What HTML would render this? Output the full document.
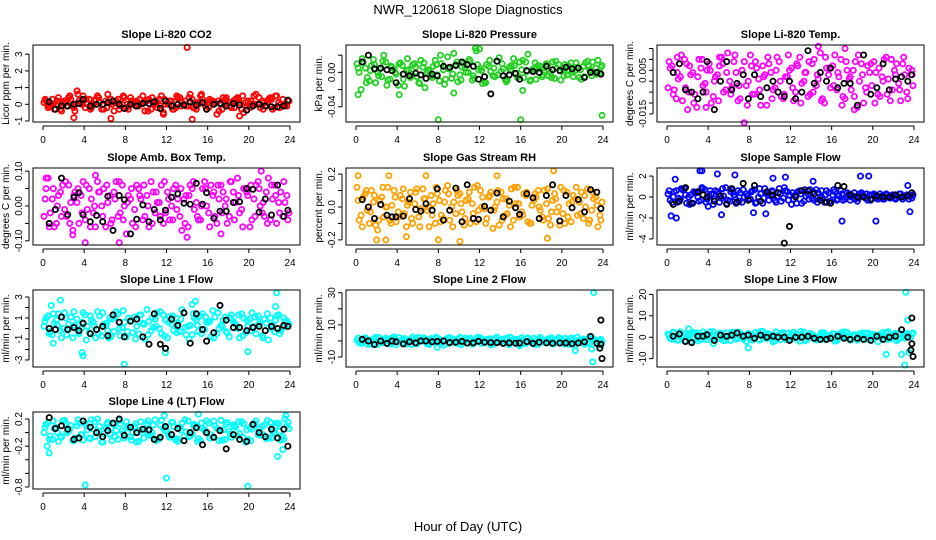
<!DOCTYPE html>
<html><head><meta charset="utf-8"><style>
html,body{margin:0;padding:0;background:#fff;}
svg{display:block;font-family:"Liberation Sans",Arial,sans-serif;}
</style></head><body>
<svg id="chart" width="936" height="540" viewBox="0 0 936 540">
<text x="468" y="14" text-anchor="middle" font-size="13">NWR_120618  Slope Diagnostics</text>
<text x="468" y="531" text-anchor="middle" font-size="13">Hour of Day (UTC)</text>
</svg>
<script>
const hcA=[0.1,0.5,0.9,1.3,1.7,2.1,2.5,2.9,3.3,3.7,4.1,4.5,4.9,5.3,5.7,6.1,6.5,6.9,7.3,7.7,8.1,8.5,8.9,9.3,9.7,10.1,10.5,10.9,11.3,11.7,12.1,12.5,12.9,13.3,13.7,14.1,14.5,14.9,15.3,15.7,16.1,16.5,16.9,17.3,17.7,18.1,18.5,18.9,19.3,19.7,20.1,20.5,20.9,21.3,21.7,22.1,22.5,22.9,23.3,23.7];
const hcB=[0.3,0.7,1.1,1.5,1.9,2.3,2.7,3.1,3.5,3.9,4.3,4.7,5.1,5.5,5.9,6.3,6.7,7.1,7.5,7.9,8.3,8.7,9.1,9.5,9.9,10.3,10.7,11.1,11.5,11.9,12.3,12.7,13.1,13.5,13.9,14.3,14.7,15.1,15.5,15.9,16.3,16.7,17.1,17.5,17.9,18.3,18.7,19.1,19.5,19.9,20.3,20.7,21.1,21.5,21.9,22.3,22.7,23.1,23.5,23.9];
const hcC=[0.2,0.6,1.0,1.4,1.8,2.2,2.6,3.0,3.4,3.8,4.2,4.6,5.0,5.4,5.8,6.2,6.6,7.0,7.4,7.8,8.2,8.6,9.0,9.4,9.8,10.2,10.6,11.0,11.4,11.8,12.2,12.6,13.0,13.4,13.8,14.2,14.6,15.0,15.4,15.8,16.2,16.6,17.0,17.4,17.8,18.2,18.6,19.0,19.4,19.8,20.2,20.6,21.0,21.4,21.8,22.2,22.6,23.0,23.4,23.8];
const hb=[0.6,1.2,1.8,2.4,3.0,3.5,3.9,4.6,5.2,5.8,6.3,6.8,7.4,7.9,8.5,9.1,9.7,10.3,10.8,11.4,11.9,12.5,13.1,13.7,14.3,14.9,15.5,15.9,16.6,17.2,17.8,18.5,19.1,19.8,20.4,21.0,21.6,22.2,22.8,23.4,23.8];
const xTicks=[0,4,8,12,16,20,24];

const co2A=[0.1,-0.2,0.3,0.0,-0.3,0.2,0.4,-0.1,0.8,0.1,-0.2,0.3,0.0,0.5,-0.3,0.2,0.1,-0.4,0.3,0.0,-0.2,0.4,0.1,-0.1,0.5,0.2,-0.3,0.0,0.3,-0.5,0.1,0.2,-0.2,0.4,0.0,-0.1,0.3,-0.3,0.5,0.1,-0.2,0.2,-0.6,0.0,0.3,-0.1,0.2,0.4,-0.3,0.1,-0.2,0.5,0.0,0.2,-0.1,0.4,-0.2,0.1,0.3,-0.1];
const co2B=[0.2,0.0,-0.3,0.4,0.1,-0.1,0.3,-0.4,0.2,0.5,0.0,-0.2,0.3,0.1,-0.3,0.6,0.0,0.2,-0.1,0.4,-0.3,0.1,0.2,0.0,-0.4,0.3,0.1,-0.2,0.5,0.0,0.2,-0.3,0.4,0.1,-0.1,0.6,-0.2,0.0,0.3,-0.3,0.2,0.1,-0.4,0.4,0.0,-0.2,0.3,0.1,-0.5,0.2,0.0,0.6,-0.2,0.1,0.3,-0.3,0.5,0.0,-0.1,0.2];
const co2C=[0.3,-0.1,0.0,0.2,-0.4,0.1,0.5,-0.2,0.6,0.0,0.3,-0.3,0.2,0.4,0.0,-0.2,0.3,0.1,-0.3,0.5,0.0,0.2,-0.1,0.3,0.1,-0.4,0.4,0.2,-0.1,0.3,0.0,-0.3,0.5,-0.1,0.2,0.4,-0.2,0.1,0.6,-0.1,0.3,0.0,0.2,-0.3,0.4,0.1,-0.2,0.3,0.5,-0.1,0.2,0.0,0.4,-0.3,0.1,0.3,0.5,-0.2,0.0,0.2];
const co2OutH=[14.0,14.5,6.6,3.0,11.7,19.1];
const co2OutV=[3.4,-0.9,-0.85,-0.8,-0.6,-0.7];
const co2Blk=[0.15,-0.3,-0.1,-0.1,0.0,0.05,0.3,-0.1,0.0,0.0,0.1,0.2,0.0,-0.25,0.0,-0.1,0.05,0.05,0.15,-0.25,0.2,-0.1,0.0,-0.05,0.15,-0.05,0.1,-0.3,0.0,0.05,-0.1,0.05,-0.05,-0.35,-0.1,0.0,-0.1,-0.15,-0.15,-0.1,0.25];

const presA=[0.01,-0.02,0.005,-0.01,0.015,0.0,-0.005,0.012,-0.008,0.004,-0.015,0.008,0.002,-0.006,0.01,-0.012,0.006,0.0,-0.004,0.014,-0.01,0.003,0.018,-0.007,0.009,-0.003,0.011,0.0,-0.009,0.025,0.005,-0.011,0.007,-0.004,0.013,0.001,-0.008,0.006,0.016,-0.006,0.003,0.012,-0.01,0.004,0.008,-0.005,0.01,0.0,-0.007,0.009,0.004,-0.003,0.011,0.002,-0.006,0.007,0.013,-0.004,0.005,0.0];
const presB=[0.0,0.012,-0.006,0.008,-0.012,0.004,0.02,-0.009,0.006,-0.002,0.011,-0.016,0.003,0.009,-0.005,0.014,-0.018,0.002,0.007,-0.003,0.01,-0.008,0.005,0.022,-0.011,0.006,0.0,0.013,-0.007,0.003,-0.013,0.009,0.001,-0.005,0.017,0.004,-0.009,0.008,-0.002,0.012,-0.006,0.021,0.003,-0.008,0.007,0.0,-0.004,0.012,0.005,-0.009,0.009,0.002,-0.005,0.006,-0.008,0.011,0.003,0.0,0.014,0.008];
const presC=[0.005,0.016,-0.012,0.002,0.009,-0.004,0.013,-0.015,0.007,0.0,0.01,-0.008,0.016,-0.002,0.006,-0.013,0.011,0.003,-0.006,0.009,0.02,-0.014,0.004,-0.002,0.012,-0.009,0.006,0.015,-0.004,0.009,0.002,-0.012,0.014,0.005,-0.003,0.01,-0.011,0.003,0.008,-0.005,0.014,0.001,-0.009,0.011,0.004,-0.003,0.009,-0.006,0.013,0.002,-0.004,0.008,0.0,0.011,0.003,-0.005,0.007,0.012,-0.002,0.006];
const presOutH=[8,16,23.9,0.2,11.6,12,9.5,4.2,16.2];
const presOutV=[-0.055,-0.055,-0.05,-0.026,0.028,0.027,-0.024,-0.026,-0.021];
const presBlk=[0.012,0.02,0.004,0.005,0.003,0.002,-0.012,-0.002,-0.004,-0.001,-0.003,-0.007,-0.002,-0.004,0.007,0.006,0.008,0.012,0.009,0.007,-0.008,-0.005,-0.025,0.013,-0.004,-0.003,-0.001,-0.008,0.002,0.001,0.0,0.007,0.003,0.002,0.006,0.004,0.005,-0.006,0.0,0.0,-0.002];

const tempA=[-0.003,0.007,-0.008,0.002,0.01,-0.005,0.004,-0.012,0.006,-0.001,0.008,-0.007,0.003,0.011,-0.004,0.0,0.009,-0.009,0.005,-0.002,0.012,-0.006,0.001,0.007,-0.011,0.004,-0.003,0.009,-0.008,0.002,0.006,-0.005,0.011,0.0,-0.007,0.008,-0.002,0.013,-0.01,0.003,0.007,-0.004,0.01,-0.008,0.001,0.005,-0.012,0.008,-0.003,0.004,0.009,-0.006,0.002,0.011,-0.009,0.005,-0.001,0.008,-0.005,0.003];
const tempB=[0.006,-0.004,0.001,-0.009,0.008,0.003,-0.006,0.01,-0.002,0.005,-0.01,0.002,0.007,-0.005,0.013,-0.003,0.004,-0.008,0.009,0.0,-0.006,0.006,-0.011,0.003,0.008,-0.004,0.011,-0.007,0.002,0.005,-0.009,0.007,-0.001,0.004,-0.006,0.01,0.001,-0.008,0.006,-0.003,0.012,0.002,-0.007,0.005,-0.004,0.009,0.0,-0.01,0.007,-0.002,0.004,-0.007,0.01,0.001,-0.004,0.008,-0.009,0.003,0.006,-0.002];
const tempC=[0.009,-0.006,0.004,0.012,-0.003,0.007,-0.01,0.002,0.01,-0.005,0.005,0.0,-0.009,0.008,0.004,-0.006,0.012,-0.002,0.003,-0.011,0.007,0.009,-0.004,0.002,0.011,-0.008,0.005,0.0,-0.006,0.012,-0.003,0.008,-0.01,0.004,0.009,-0.005,0.003,-0.009,0.011,0.006,-0.002,0.004,-0.011,0.009,0.002,-0.007,0.012,0.003,-0.005,0.008,-0.01,0.006,0.0,-0.006,0.01,0.003,-0.004,0.011,-0.008,0.005];
const tempOutH=[7.5,2.0,3.8,14.7,17.3,18.2,1.0,5.1];
const tempOutV=[-0.019,-0.013,-0.012,0.016,0.015,-0.013,0.011,0.011];
const tempBlk=[0.004,0.008,-0.004,-0.005,-0.008,-0.005,0.009,-0.013,0.0,0.009,-0.004,-0.001,0.003,-0.008,0.003,-0.007,-0.003,0.0,-0.005,-0.007,0.0,-0.008,-0.005,0.014,-0.001,0.004,0.0,0.006,-0.003,-0.001,-0.001,-0.011,0.012,-0.006,-0.003,0.008,-0.004,0.001,0.002,0.0,0.003];

const ambA=[-0.03,0.08,0.02,-0.05,0.04,-0.01,0.06,-0.07,0.01,0.03,-0.04,0.05,-0.02,0.07,0.0,-0.06,0.03,0.04,-0.03,0.06,-0.08,0.02,-0.01,0.05,-0.04,0.03,0.07,-0.02,0.01,-0.05,0.04,0.0,0.06,-0.03,0.02,-0.06,0.05,0.01,-0.04,0.07,-0.02,0.03,-0.05,0.06,0.0,-0.03,0.04,0.08,-0.01,0.05,-0.06,0.02,0.07,-0.02,0.04,-0.04,0.06,0.01,-0.03,0.03];
const ambB=[0.05,-0.02,-0.06,0.03,0.06,-0.03,0.01,0.04,-0.05,0.07,-0.01,0.02,-0.06,0.04,0.05,0.01,-0.04,0.07,-0.02,0.0,0.03,-0.05,0.06,0.02,-0.03,-0.06,0.04,0.01,0.06,-0.02,-0.04,0.05,0.02,-0.07,0.03,0.06,-0.01,-0.04,0.05,0.0,0.06,-0.03,0.02,0.04,-0.05,0.07,0.01,-0.02,0.05,0.03,-0.04,0.06,0.0,-0.03,0.08,0.02,-0.05,0.04,0.01,-0.02];
const ambC=[0.02,-0.06,0.05,0.0,-0.03,0.07,-0.05,0.03,0.05,-0.02,0.06,-0.06,0.0,0.04,-0.03,0.06,-0.05,0.02,0.07,-0.04,0.01,0.05,-0.06,0.03,0.06,0.0,-0.05,0.04,-0.03,0.07,0.02,-0.04,-0.01,0.05,-0.05,0.03,0.07,-0.03,0.0,0.05,-0.06,0.04,0.06,-0.02,0.02,0.07,-0.04,0.03,-0.06,0.04,0.06,-0.03,0.05,0.01,-0.05,0.06,0.03,-0.02,0.07,-0.04];
const ambOutH=[4.1,7.4,14,21.2,0.3,2.9,17.3,5.1];
const ambOutV=[-0.105,-0.105,-0.09,0.1,0.08,-0.083,-0.08,0.088];
const ambBlk=[-0.05,-0.01,0.08,-0.025,0.025,0.038,-0.025,-0.045,-0.027,-0.045,0.028,-0.07,0.03,0.018,-0.08,-0.038,0.003,-0.045,-0.01,-0.04,-0.012,0.025,0.035,0.008,0.005,0.065,0.005,0.038,-0.035,-0.015,-0.015,0.01,0.012,0.05,0.048,-0.018,0.02,-0.026,0.06,-0.03,-0.012];

const rhA=[0.12,-0.05,0.08,-0.1,0.03,-0.14,0.06,0.0,-0.08,0.1,-0.03,0.05,-0.12,0.09,0.02,-0.06,0.11,-0.02,0.07,-0.1,0.04,-0.07,0.13,0.0,-0.04,0.08,-0.11,0.05,0.02,-0.09,0.1,-0.01,0.06,-0.13,0.03,0.09,-0.05,0.01,-0.08,0.12,-0.03,0.07,-0.1,0.04,0.1,-0.06,0.02,-0.11,0.08,0.0,-0.04,0.09,-0.09,0.05,0.03,-0.07,0.11,-0.02,0.06,-0.05];
const rhB=[-0.08,0.06,-0.02,0.1,-0.11,0.04,-0.06,0.12,0.01,-0.09,0.07,-0.04,0.03,-0.1,0.11,-0.01,0.05,-0.12,0.02,0.08,-0.05,0.1,-0.08,0.03,0.07,-0.03,0.04,-0.1,0.12,-0.02,0.06,-0.07,0.09,0.0,-0.11,0.05,-0.04,0.11,0.02,-0.06,0.08,-0.09,0.01,0.06,-0.02,0.1,-0.07,0.04,-0.03,0.12,-0.1,0.02,0.07,-0.05,0.09,0.0,-0.08,0.05,-0.12,0.03];
const rhC=[0.04,-0.12,0.1,-0.03,0.07,-0.08,0.12,0.0,-0.1,0.06,-0.06,0.11,0.01,-0.07,0.09,-0.12,0.05,0.0,-0.05,0.12,-0.09,0.03,0.08,-0.12,0.1,0.02,-0.07,0.09,-0.04,0.13,0.0,-0.1,0.07,-0.02,0.1,-0.08,0.05,-0.12,0.12,0.02,-0.05,0.09,-0.1,0.08,0.0,-0.08,0.11,-0.03,0.05,-0.11,0.1,-0.06,0.03,0.12,-0.04,0.07,-0.1,0.09,0.01,-0.08];
const rhOutH=[0.2,3.2,6.8,13.7,19.2,2.0,2.9,8.0,10.1,4.9,18.6];
const rhOutV=[0.19,0.19,0.19,0.19,0.22,-0.2,-0.2,-0.2,-0.21,-0.18,-0.19];
const rhBlk=[0.045,0.0,-0.07,0.015,-0.05,-0.06,-0.06,-0.055,0.05,-0.015,-0.025,0.02,-0.02,0.11,-0.08,-0.02,0.115,-0.09,0.135,-0.07,-0.075,0.005,-0.02,0.085,-0.06,0.035,-0.005,-0.045,0.08,0.055,-0.07,0.07,0.135,-0.085,0.07,-0.005,0.045,-0.03,0.105,0.09,-0.01];

const sfA=[0.3,-0.5,0.6,-0.2,0.8,0.0,-0.6,0.4,-0.3,0.7,0.1,-0.7,0.5,-0.1,0.9,-0.4,0.2,0.6,-0.5,0.3,-0.2,0.7,0.0,-0.6,0.4,0.1,-0.3,0.8,-0.1,0.5,-0.7,0.2,0.6,-0.4,0.3,-0.1,0.7,0.0,-0.5,0.4,0.2,-0.3,0.6,-0.2,0.3,0.1,-0.4,0.4,-0.1,0.2,0.3,-0.2,0.1,0.3,-0.1,0.2,0.0,-0.2,0.2,0.1];
const sfB=[-0.3,0.5,-0.1,0.7,-0.6,0.2,0.4,-0.4,0.8,-0.2,0.3,0.6,-0.5,0.1,-0.3,0.7,-0.6,0.4,0.0,-0.2,0.6,-0.5,0.3,0.8,-0.3,0.5,0.0,-0.4,0.6,0.2,-0.2,0.5,-0.6,0.1,0.7,-0.3,0.4,-0.1,0.6,-0.4,0.5,0.1,-0.3,0.4,0.0,-0.2,0.3,0.1,-0.3,0.2,-0.1,0.3,-0.2,0.0,0.2,-0.1,0.3,0.1,-0.2,0.2];
const sfC=[0.6,0.0,-0.5,0.8,0.2,-0.7,0.5,0.0,0.9,-0.5,0.6,-0.2,0.3,0.8,-0.6,0.5,0.0,-0.4,0.7,0.1,0.5,-0.6,0.8,-0.1,0.2,0.6,-0.5,0.3,0.9,-0.3,0.4,-0.6,0.3,0.7,-0.2,0.5,-0.5,0.6,0.2,-0.4,0.7,-0.2,0.3,0.0,-0.3,0.4,-0.1,0.2,0.3,-0.3,0.2,0.0,-0.2,0.2,0.1,-0.2,0.3,0.0,0.2,-0.1];
const sfOutH=[0.4,0.9,0.8,3.2,3.4,4.9,5.3,6.6,11.5,10.3,9.6,17.0,20.3,18.8,19.6,23.6,23.4,14.2,4.0,8.4];
const sfOutV=[-1.8,-2.0,1.7,2.5,2.5,2.2,-1.7,2.1,1.9,1.8,-1.6,-2.3,-2.3,2.0,2.0,-1.4,1.1,1.5,-0.9,-1.5];
const sfBlk=[-0.7,-0.4,0.9,-0.6,0.5,0.2,0.0,-0.4,0.1,-0.7,0.8,-0.5,1.3,-0.3,1.1,-0.4,0.5,0.2,0.4,-4.4,-2.8,0.0,0.6,0.6,0.3,-0.3,-0.5,-0.6,1.1,1.0,0.2,0.0,0.0,-0.2,0.1,0.0,0.0,0.2,0.0,0.1,0.4];

const l1A=[0.2,1.2,-0.6,0.8,-0.2,1.5,0.4,-0.9,0.9,0.0,1.3,-0.4,0.6,1.6,-0.7,0.3,1.0,-0.3,1.4,0.1,-0.8,0.7,1.1,-0.5,0.5,1.8,-0.2,0.9,0.0,1.3,-0.9,0.4,1.0,-0.3,1.5,0.2,-0.6,0.8,1.2,-0.1,0.6,1.7,-0.5,0.3,1.1,-0.8,0.7,0.0,1.4,-0.4,0.9,0.2,1.2,-0.7,0.5,1.0,-0.3,1.3,0.1,0.7];
const l1B=[1.0,-0.3,0.5,1.4,0.0,-0.6,1.1,0.3,-0.5,1.5,0.2,0.8,-0.9,1.2,0.4,-0.2,0.9,1.6,-0.7,0.6,1.0,-0.4,0.2,1.3,-1.0,0.7,0.1,1.5,-0.5,0.8,1.1,-0.2,0.5,1.8,-0.6,0.3,1.0,-0.3,1.4,0.6,-0.8,1.1,0.0,0.8,-0.4,1.3,0.4,-0.9,1.0,0.2,1.5,-0.5,0.6,0.9,-1.1,0.3,1.2,-0.2,0.7,0.4];
const l1C=[0.7,-0.5,1.4,0.3,-0.9,1.0,0.0,1.6,-0.3,0.6,-1.1,1.2,0.2,-0.5,1.5,0.5,-0.8,1.1,0.0,1.7,-0.3,0.8,-1.0,1.3,0.4,-0.6,1.0,0.2,1.6,-0.7,0.6,1.2,-0.4,0.9,0.1,-1.0,1.4,0.3,-0.5,1.1,0.7,-0.9,1.5,0.2,-0.3,1.0,0.5,1.3,-0.7,0.8,-0.2,1.1,0.4,-0.9,1.4,0.0,0.8,-0.5,1.0,0.3];
const l1OutH=[0.8,1.7,3.8,3.9,7.9,14.8,14.5,22.7,22.6,19.9,1.0,6.4,11.9];
const l1OutV=[2.2,2.7,-2.3,-2.6,-3.4,2.6,2.3,3.4,2.1,-2.2,-1.4,-0.9,-2.3];
const l1Blk=[0.0,-0.1,1.1,-0.1,0.1,-0.2,0.5,-0.5,-0.1,0.2,-0.7,1.3,0.6,-0.8,0.7,0.9,-0.8,-1.5,1.4,-1.5,-1.9,0.9,0.3,1.5,-1.4,1.4,-0.1,-1.2,-0.4,2.2,0.8,0.1,0.1,-0.2,0.1,0.2,-0.2,0.2,0.0,0.3,0.2];

const l2A=[0.5,-1.5,2.0,-0.8,1.2,-2.2,0.0,1.8,-1.0,2.5,-0.3,1.0,-2.0,0.7,-1.2,2.2,0.2,-1.8,1.5,-0.5,0.9,-2.5,1.7,0.0,-1.4,2.3,-0.6,1.1,-2.1,0.4,1.9,-1.0,0.6,-1.6,2.4,-0.2,1.3,-2.3,0.8,-0.9,2.0,-1.5,0.3,1.6,-2.0,0.9,-0.4,1.4,-1.7,2.1,0.1,-1.2,1.7,-2.4,0.6,1.2,-1.0,2.3,-0.5,0.8];
const l2B=[-1.0,1.4,-2.0,0.6,2.2,-0.5,1.0,-1.6,1.9,-2.3,0.3,1.5,-0.9,2.4,-1.8,0.5,1.2,-2.2,0.0,1.8,-1.2,0.7,2.1,-0.6,1.3,-2.0,0.4,1.7,-1.1,2.3,-0.3,0.9,-2.4,1.6,0.1,-1.4,2.0,-0.8,1.1,-2.1,0.6,1.9,-1.3,0.2,2.2,-0.7,1.4,-1.9,0.8,-0.2,1.6,-2.2,0.5,2.4,-1.0,0.9,-1.6,1.3,0.0,-0.5];
const l2C=[1.8,-0.6,0.9,-2.1,1.3,2.3,-1.1,0.4,-1.9,1.0,2.1,-0.7,0.6,-2.2,1.5,-0.2,1.9,-1.3,0.8,2.4,-0.9,0.3,-1.7,1.2,0.0,-2.4,1.8,0.5,-0.8,2.2,-1.5,0.7,1.4,-2.0,0.2,1.0,-1.2,2.3,-0.4,0.9,-1.8,1.5,0.1,-2.2,1.1,0.6,-1.0,2.0,-0.3,1.2,-1.9,0.4,1.8,-0.8,0.2,-2.1,1.5,0.7,-1.2,1.0];
const l2OutH=[23.1,23.0,22.9,21.3,7.9,15.9,22.7,23.8];
const l2OutV=[30,-13,-5,-6,-4,-3,2.5,-2.5];
const l2Blk=[1.0,0.0,-2.2,0.0,-1.5,0.0,-0.5,-1.8,-0.5,-1.2,0.0,0.0,-0.5,-0.3,0.0,-1.0,-0.8,-0.3,-1.3,-1.2,-0.2,-0.8,-1.0,-1.0,-1.5,-1.2,-1.4,-1.3,-0.4,-1.5,-0.8,-1.2,-1.4,-1.3,-1.3,-1.7,-1.3,-0.6,2.8,-1.5,13];
const l2BlkExH=[23.7,23.9,23.8];
const l2BlkExV=[-4.5,-11,-2];

const l3A=[1.5,-1.0,0.5,2.5,-1.8,0.9,-0.3,2.0,-1.2,1.1,0.0,2.6,-0.8,1.7,-1.5,0.6,2.3,-0.4,1.3,-2.0,0.2,1.9,-1.0,2.8,-0.6,1.0,-1.7,0.4,2.2,-1.1,1.5,0.0,-1.9,2.4,-0.7,1.2,-1.3,0.8,2.0,-0.2,1.6,-1.6,0.3,2.5,-0.9,1.1,-1.4,0.7,1.9,-0.5,1.3,-2.1,0.6,2.1,-0.8,1.4,-1.0,0.5,1.8,0.1];
const l3B=[-0.5,2.2,-1.4,1.0,0.3,-2.0,1.6,-0.7,2.5,-1.1,0.8,-0.2,1.9,-1.6,0.5,2.3,-0.9,1.2,-0.4,1.8,-1.3,0.6,2.7,-0.1,1.4,-2.2,0.9,1.7,-1.0,0.2,2.4,-0.6,1.1,-1.5,1.8,0.4,-1.2,2.1,-0.3,0.7,-1.8,1.5,0.0,2.2,-1.1,0.9,1.6,-0.7,2.0,-1.4,0.4,1.3,-0.9,2.6,0.1,-1.6,1.7,-0.4,1.0,2.0];
const l3C=[0.8,2.4,-1.3,0.4,1.6,-0.6,2.3,-1.7,0.9,0.2,2.6,-1.0,1.3,-0.3,2.0,-1.5,0.7,2.4,-0.8,1.1,0.0,2.2,-1.4,0.6,1.7,-0.5,2.5,-1.1,0.3,1.9,-0.9,1.4,2.7,-1.6,0.5,1.0,-0.2,2.1,-1.2,0.8,1.6,-0.7,2.3,0.1,-1.3,1.2,0.5,2.0,-0.9,1.5,-0.3,0.9,2.2,-1.0,0.6,1.8,-0.5,1.1,0.3,1.5];
const l3OutH=[23.2,23.1,23.4,22.8,21.3,23.5,7.9,2.1,4.5,23.9];
const l3OutV=[21,-13,8,-8,-8,-7,-5,4,-3,2];
const l3Blk=[0.5,1.5,-2,-2.5,0.5,0.5,1.2,-1.5,1.0,0.5,1.0,2.0,0.5,1.0,-0.5,1.0,0.0,0.5,0.0,0.0,-1.5,0.0,0.0,0.5,-0.5,-1.0,-1.0,-0.5,0.5,-0.5,-1.0,-0.5,-1.0,-1.5,0.5,-1.0,0.0,0.5,3.5,0.0,9];
const l3BlkExH=[23.8,23.9,23.7];
const l3BlkExV=[-3,-9,-6];

const l4A=[0.0,0.15,-0.1,0.08,-0.05,0.18,0.02,-0.12,0.1,-0.03,0.14,-0.08,0.05,0.2,-0.14,0.07,-0.02,0.12,-0.1,0.03,0.16,-0.06,0.09,-0.13,0.0,0.13,-0.04,0.19,-0.09,0.06,0.01,0.15,-0.11,0.08,-0.05,0.17,-0.02,0.1,-0.12,0.04,0.14,-0.07,0.06,0.18,-0.1,0.02,0.11,-0.05,0.16,-0.14,0.07,0.12,-0.03,0.09,-0.09,0.15,0.0,0.13,-0.06,0.1];
const l4B=[0.12,-0.05,0.06,-0.13,0.17,0.0,0.1,-0.08,0.14,-0.11,0.04,0.19,-0.06,0.09,-0.02,0.15,-0.12,0.03,0.13,-0.08,0.07,0.0,-0.14,0.16,0.05,-0.04,0.11,-0.1,0.18,0.02,-0.07,0.09,-0.13,0.14,0.01,-0.05,0.12,-0.09,0.06,0.17,-0.03,0.1,-0.12,0.04,0.15,-0.07,0.08,-0.01,0.13,-0.1,0.05,0.17,-0.04,0.11,-0.08,0.02,0.14,-0.11,0.2,0.06];
const l4C=[0.08,-0.1,0.17,0.0,-0.07,0.14,0.05,-0.12,0.19,-0.03,0.1,-0.09,0.16,0.02,-0.14,0.12,0.06,-0.06,0.18,-0.01,0.09,-0.11,0.13,0.03,-0.08,0.17,0.0,-0.12,0.11,0.07,-0.04,0.15,-0.09,0.04,0.19,-0.06,0.1,-0.13,0.14,0.01,-0.08,0.17,0.05,-0.11,0.12,-0.02,0.09,0.16,-0.07,0.04,-0.12,0.13,0.06,-0.03,0.18,-0.08,0.1,0.02,-0.1,0.15];
const l4OutH=[4.1,12.0,19.9,0.6,0.4,22.8,23.3,15.1,11.8,23.6];
const l4OutV=[-0.77,-0.67,-0.79,-0.3,-0.2,-0.35,-0.25,0.27,0.25,0.25];
const l4Blk=[0.22,0.06,0.1,0.05,-0.1,-0.08,0.17,0.08,0.0,-0.06,0.03,0.14,0.2,-0.04,0.08,0.0,0.05,0.04,-0.1,-0.07,0.09,-0.03,0.06,-0.12,0.0,0.07,-0.18,0.0,-0.07,0.03,-0.24,-0.03,-0.1,-0.13,0.12,0.0,-0.06,0.05,-0.08,0.05,-0.2];

const NS='http://www.w3.org/2000/svg';
const svg=document.getElementById('chart');
function el(tag,attrs,parent){const e=document.createElementNS(NS,tag);for(const k in attrs)e.setAttribute(k,attrs[k]);(parent||svg).appendChild(e);return e;}

const colLeft=[33,346,657], rowTop=[45,168,290,412], BW=267, BH=77;

const panels=[
 {key:'co2',title:'Slope Li-820 CO2',ylab:'Licor ppm per min.',col:0,row:0,color:'#ff0000',ymin:-1.06,ymax:3.55,ticks:[-1,0,1,2,3],labels:['-1','0','1','2','3'],A:co2A,B:co2B,C:co2C,oh:co2OutH,ov:co2OutV,blk:co2Blk},
 {key:'pressure',title:'Slope Li-820 Pressure',ylab:'kPa per min.',col:1,row:0,color:'#22d022',ymin:-0.0577,ymax:0.0318,ticks:[-0.04,-0.02,0,0.02],labels:['-0.04','','0.00',''],A:presA,B:presB,C:presC,oh:presOutH,ov:presOutV,blk:presBlk},
 {key:'temp',title:'Slope Li-820 Temp.',ylab:'degrees C per min.',col:2,row:0,color:'#ff00ff',ymin:-0.0187,ymax:0.0166,ticks:[-0.015,-0.01,-0.005,0,0.005,0.01,0.015],labels:['-0.015','','','','0.005','',''],A:tempA,B:tempB,C:tempC,oh:tempOutH,ov:tempOutV,blk:tempBlk},
 {key:'amb',title:'Slope Amb. Box Temp.',ylab:'degrees C per min.',col:0,row:1,color:'#ff00ff',ymin:-0.112,ymax:0.109,ticks:[-0.1,-0.05,0,0.05,0.1],labels:['-0.10','','0.00','','0.10'],A:ambA,B:ambB,C:ambC,oh:ambOutH,ov:ambOutV,blk:ambBlk},
 {key:'rh',title:'Slope Gas Stream RH',ylab:'percent per min.',col:1,row:1,color:'#ffa000',ymin:-0.231,ymax:0.237,ticks:[-0.2,-0.1,0,0.1,0.2],labels:['-0.2','','0.0','','0.2'],A:rhA,B:rhB,C:rhC,oh:rhOutH,ov:rhOutV,blk:rhBlk},
 {key:'sample',title:'Slope Sample Flow',ylab:'ml/min per min.',col:2,row:1,color:'#0000ff',ymin:-4.58,ymax:2.77,ticks:[-4,-2,0,2],labels:['-4','-2','0','2'],A:sfA,B:sfB,C:sfC,oh:sfOutH,ov:sfOutV,blk:sfBlk},
 {key:'line1',title:'Slope Line 1 Flow',ylab:'ml/min per min.',col:0,row:2,color:'#00ffff',ymin:-3.67,ymax:3.67,ticks:[-3,-2,-1,0,1,2,3],labels:['-3','','-1','','1','','3'],A:l1A,B:l1B,C:l1C,oh:l1OutH,ov:l1OutV,blk:l1Blk},
 {key:'line2',title:'Slope Line 2 Flow',ylab:'ml/min per min.',col:1,row:2,color:'#00ffff',ymin:-16.2,ymax:31.7,ticks:[-10,0,10,20,30],labels:['-10','','10','','30'],A:l2A,B:l2B,C:l2C,oh:l2OutH,ov:l2OutV,blk:l2Blk,bxh:l2BlkExH,bxv:l2BlkExV},
 {key:'line3',title:'Slope Line 3 Flow',ylab:'ml/min per min.',col:2,row:2,color:'#00ffff',ymin:-13.9,ymax:22.06,ticks:[-10,0,10,20],labels:['-10','0','10','20'],A:l3A,B:l3B,C:l3C,oh:l3OutH,ov:l3OutV,blk:l3Blk,bxh:l3BlkExH,bxv:l3BlkExV},
 {key:'line4',title:'Slope Line 4 (LT) Flow',ylab:'ml/min per min.',col:0,row:3,color:'#00ffff',ymin:-0.83,ymax:0.303,ticks:[-0.8,-0.6,-0.4,-0.2,0,0.2],labels:['-0.8','','','-0.2','','0.2'],A:l4A,B:l4B,C:l4C,oh:l4OutH,ov:l4OutV,blk:l4Blk}
];

panels.forEach(p=>{
  const L=colLeft[p.col], T=rowTop[p.row], B=T+BH;
  const xs=h=>L+10+h*(BW-20)/24;
  const ys=v=>B-(v-p.ymin)/(p.ymax-p.ymin)*BH;
  const g=el('g',{});
  
  
  const t=el('text',{x:L+BW/2,y:T-7,'text-anchor':'middle','font-size':11,'font-weight':'bold'},g);
  t.textContent=p.title;
  
  
  const pts=el('g',{fill:'none','stroke-width':1.8},g);
  
  
  const dot=(h,v,c)=>{const y=ys(v);if(y<T-1||y>B+1)return;const cc=el('circle',{cx:xs(h).toFixed(1),cy:y.toFixed(1),r:2.6,stroke:c},pts);
    
    };
  p.A.forEach((v,i)=>dot(hcA[i],v,p.color));
  p.B.forEach((v,i)=>dot(hcB[i],v,p.color));
  p.C.forEach((v,i)=>dot(hcC[i],v,p.color));
  p.oh.forEach((h,i)=>dot(h,p.ov[i],p.color));
  p.blk.forEach((v,i)=>dot(hb[i],v,'#000'));
  if(p.bxh)p.bxh.forEach((h,i)=>dot(h,p.bxv[i],'#000'));
  const box=el('rect',{x:L,y:T,width:BW,height:BH,fill:'none',stroke:'#000','stroke-width':1},g);
  
  
  const xa=el('g',{stroke:'#000','stroke-width':1},g);
  
  
  el('line',{x1:xs(0),x2:xs(24),y1:B+4,y2:B+4},xa);
  xTicks.forEach(v=>{el('line',{x1:xs(v),x2:xs(v),y1:B+4,y2:B+8},xa);
    const tl=el('text',{x:xs(v),y:B+21,'text-anchor':'middle','font-size':10,stroke:'none',fill:'#000'},xa);tl.textContent=v;});
  const ya=el('g',{stroke:'#000','stroke-width':1},g);
  
  
  el('line',{x1:L-4,x2:L-4,y1:ys(p.ticks[0]),y2:ys(p.ticks[p.ticks.length-1])},ya);
  p.ticks.forEach((v,i)=>{const y=ys(v);el('line',{x1:L-8,x2:L-4,y1:y,y2:y},ya);
    if(p.labels[i]){const tl=el('text',{x:L-11,y:y,'text-anchor':'middle','font-size':10,stroke:'none',fill:'#000',transform:`rotate(-90 ${L-11} ${y})`},ya);tl.textContent=p.labels[i];}});
  const yl=el('text',{x:L-24,y:T+BH/2,'text-anchor':'middle','font-size':10,transform:`rotate(-90 ${L-24} ${T+BH/2})`},g);
  yl.textContent=p.ylab;
  
  
});
</script>
</body></html>
